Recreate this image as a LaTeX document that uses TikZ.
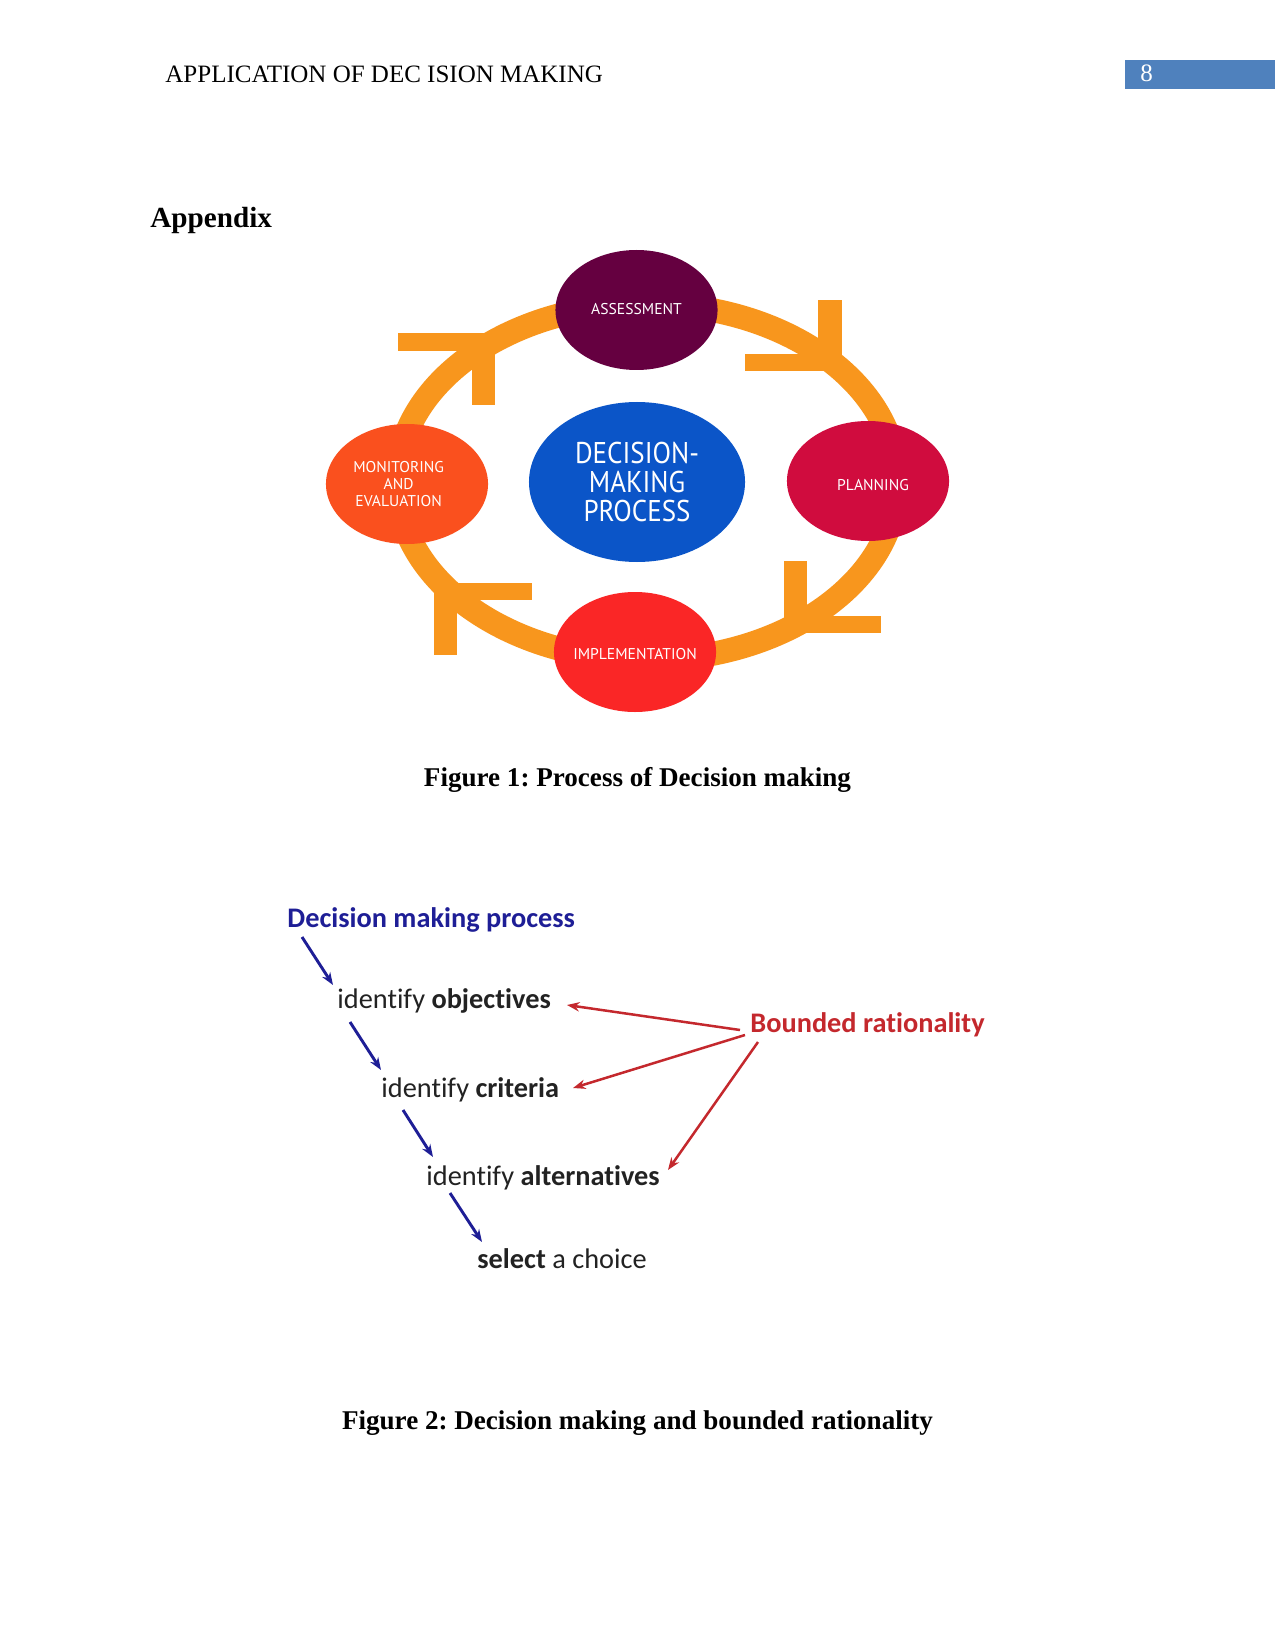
\documentclass[tikz,border=0pt]{standalone}
\usepackage{fontspec}
\setmainfont{Liberation Serif}
\newfontfamily\ptsans{PT Sans}
\newfontfamily\ptsanscond[FakeStretch=0.9]{PT Sans}
\newfontfamily\calibri[Ligatures=NoCommon]{Carlito}
\usetikzlibrary{shapes.geometric,arrows.meta}
\definecolor{ringorange}{RGB}{248,150,29}
\definecolor{cassess}{RGB}{101,0,64}
\definecolor{cplan}{RGB}{208,12,62}
\definecolor{cimpl}{RGB}{250,38,38}
\definecolor{cmon}{RGB}{250,80,30}
\definecolor{cblue}{RGB}{11,85,200}
\definecolor{pagebox}{RGB}{79,129,189}
\definecolor{navy}{RGB}{30,30,150}
\definecolor{darkred}{RGB}{196,40,45}
\definecolor{txtgrey}{RGB}{34,34,34}
\begin{document}
\frenchspacing
\begin{tikzpicture}[x=0.48pt,y=-0.48pt,
  stage/.style={ellipse,inner sep=0pt,minimum width=77.8pt,minimum height=57.6pt},
  stagetext/.style={inner sep=0pt,text=white,align=center,font=\ptsans\fontsize{7.5}{8.2}\selectfont},
  core/.style={ellipse,inner sep=0pt,minimum width=103.7pt,minimum height=76.8pt,fill=cblue},
  coretext/.style={inner sep=0pt,text=white,align=center,font=\ptsanscond\fontsize{14.4}{14}\selectfont},
  ringline/.style={draw=ringorange,line width=11.5pt},
  headbar/.style={fill=ringorange,draw=none},
  stepitem/.style={anchor=base west,inner sep=0pt,text=txtgrey,font=\calibri\fontsize{13.6}{16}\selectfont},
  barrow/.style={draw=navy,line width=1.4pt,-{Stealth[length=6pt,width=4.5pt]}},
  rarrow/.style={draw=darkred,line width=1.2pt,-{Stealth[length=6pt,width=4.5pt]}},
  caption/.style={anchor=base,inner sep=0pt,font=\bfseries\fontsize{13}{15}\selectfont}
]
\useasboundingbox (0,0) rectangle (1275,1650);
\fill[white] (0,0) rectangle (1275,1650);

% header
\node[anchor=base west,inner sep=0pt,font=\fontsize{12}{14}\selectfont] (hdr) at (165,83) {APPLICATION OF DEC ISION MAKING};
\fill[pagebox] (1125,60) rectangle (1275,89);
\node[anchor=base west,inner sep=0pt,text=white,font=\fontsize{12}{14}\selectfont] (pnum) at (1140,82) {8};
\node[anchor=base west,inner sep=0pt,font=\bfseries\fontsize{14}{16}\selectfont] (appx) at (150,228) {Appendix};

% Figure 1: ring
\draw[ringline] (647,482) ellipse [x radius=250, y radius=178];
% arrowheads (L-shaped chevrons)
\fill[headbar] (398,333) rectangle (495,351);
\fill[headbar] (472,333) rectangle (495,405);
\fill[headbar] (818,300) rectangle (842,371);
\fill[headbar] (745,354) rectangle (842,371);
\fill[headbar] (784,561) rectangle (807,633);
\fill[headbar] (784,616) rectangle (881,633);
\fill[headbar] (434,583) rectangle (457,655);
\fill[headbar] (434,583) rectangle (532,600);

\node[stage,fill=cassess] (assess) at (636.5,310) {};
\node[stage,fill=cplan] (plan) at (868,481) {};
\node[stage,fill=cimpl] (impl) at (635,652) {};
\node[stage,fill=cmon] (mon) at (407,484) {};
\node[core] (center) at (637,482) {};
\node[stagetext] (assesst) at ([yshift=0.5pt]assess.center) {ASSESSMENT};
\node[stagetext] (plant) at ([xshift=2.4pt,yshift=-2pt]plan.center) {PLANNING};
\node[stagetext] (implt) at ([yshift=-1pt]impl.center) {IMPLEMENTATION};
\node[stagetext] (mont) at ([xshift=-4pt]mon.center) {MONITORING\\AND\\EVALUATION};
\node[coretext] (centert) at (center.center) {DECISION-\\MAKING\\PROCESS};

\node[caption] (cap1) at (637.5,786) {Figure 1: Process of Decision making};

% Figure 2
\node[stepitem,text=navy] (dmp) at (287,927) {\bfseries Decision making process};
\node[stepitem] (obj) at (337,1008) {identify \textbf{objectives}};
\node[stepitem] (crit) at (381,1097) {identify \textbf{criteria}};
\node[stepitem] (alt) at (426,1185) {identify \textbf{alternatives}};
\node[stepitem] (sel) at (477,1268) {\textbf{select} a choice};
\node[stepitem,text=darkred] (bnd) at (750,1032) {\bfseries Bounded rationality};

\coordinate (b1s) at (302,937);  \coordinate (b1e) at (333,985);
\coordinate (b2s) at (350,1022); \coordinate (b2e) at (381,1070);
\coordinate (b3s) at (403,1110); \coordinate (b3e) at (433,1157);
\coordinate (b4s) at (450,1193); \coordinate (b4e) at (482,1242);
\draw[barrow] (b1s) -- (b1e);
\draw[barrow] (b2s) -- (b2e);
\draw[barrow] (b3s) -- (b3e);
\draw[barrow] (b4s) -- (b4e);

\coordinate (r1s) at (740,1030); \coordinate (r1e) at (567,1005);
\coordinate (r2s) at (745,1035); \coordinate (r2e) at (573,1088);
\coordinate (r3s) at (758,1042); \coordinate (r3e) at (668,1170);
\draw[rarrow] (r1s) -- (r1e);
\draw[rarrow] (r2s) -- (r2e);
\draw[rarrow] (r3s) -- (r3e);

\node[caption] (cap2) at (637.5,1429) {Figure 2: Decision making and bounded rationality};
\end{tikzpicture}
\end{document}
